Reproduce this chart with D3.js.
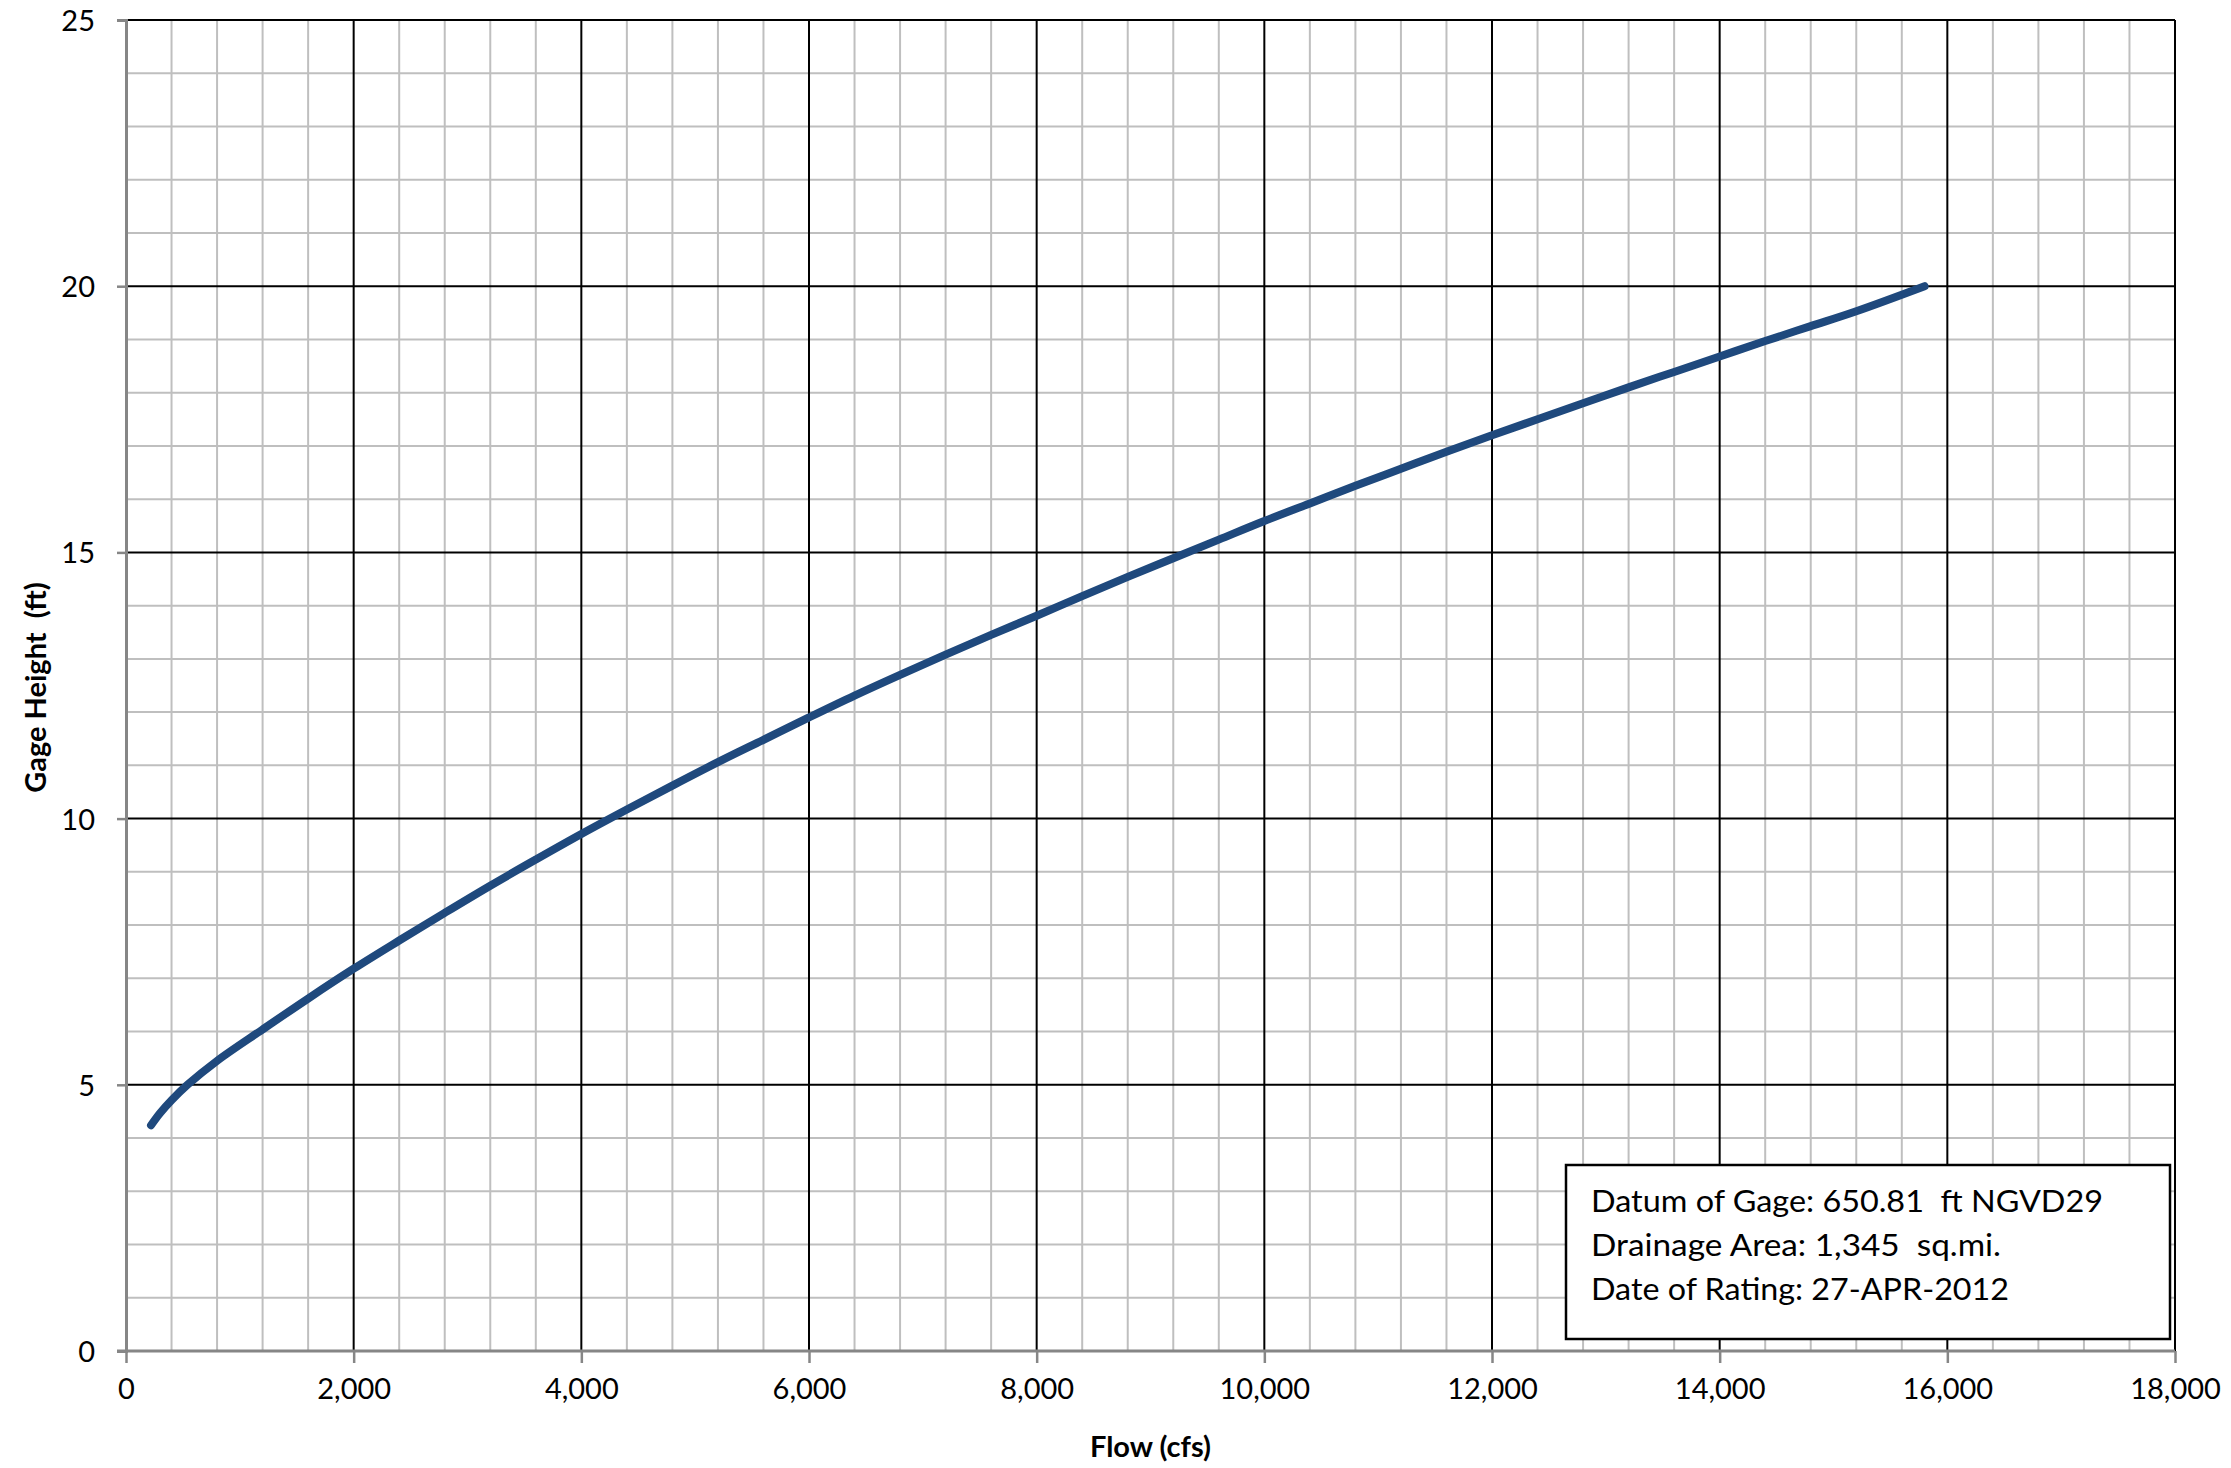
<!DOCTYPE html>
<html><head><meta charset="utf-8">
<script src="https://cdn.jsdelivr.net/npm/d3@7"></script>
<style>
body{margin:0;background:#fff}
svg text{font-family:Lato,"Open Sans",sans-serif;fill:#000}
</style>
</head><body>
<svg id="chart" width="2231" height="1468"></svg>
<script>
// ---- data ----
const flow = [220, 300, 400, 540, 800, 1200, 1600, 2000, 2400, 2800, 3200, 3600, 4000, 4400, 4800, 5200, 5600, 6000, 6400, 6800, 7200, 7600, 8000, 8400, 8800, 9200, 9600, 10000, 10400, 10800, 11200, 11600, 12000, 12400, 12800, 13200, 13600, 14000, 14400, 14800, 15200, 15800];
const gageHeight = [4.24, 4.47, 4.71, 5.00, 5.45, 6.04, 6.62, 7.18, 7.71, 8.23, 8.74, 9.23, 9.71, 10.17, 10.62, 11.06, 11.48, 11.90, 12.31, 12.70, 13.08, 13.45, 13.81, 14.18, 14.54, 14.89, 15.24, 15.59, 15.92, 16.25, 16.57, 16.89, 17.20, 17.50, 17.80, 18.10, 18.39, 18.68, 18.97, 19.25, 19.53, 20.0];
const xMajorTicks = [0, 2000, 4000, 6000, 8000, 10000, 12000, 14000, 16000, 18000];
const yMajorTicks = [0, 5, 10, 15, 20, 25];
const xMinorStep = 400;
const yMinorStep = 1;
const xTitle = "Flow (cfs)";
const yTitle = "Gage Height  (ft)";
const infoLines = ["Datum of Gage: 650.81  ft NGVD29", "Drainage Area: 1,345  sq.mi.", "Date of Rating: 27-APR-2012"];

// ---- layout ----
const L = 126, R = 2175, T = 20, B = 1351;
const svg = d3.select("#chart");
const x = d3.scaleLinear().domain([0, 18000]).range([L, R]);
const y = d3.scaleLinear().domain([0, 25]).range([B, T]);

const xMinor = d3.range(0, 18000 + 1, xMinorStep);
const yMinor = d3.range(0, 25 + 0.001, yMinorStep);

// minor grid
const g = svg.append("g");
g.selectAll(".vmin").data(xMinor.filter(v => v % 2000 !== 0)).enter().append("line")
  .attr("x1", d => x(d)).attr("x2", d => x(d)).attr("y1", T).attr("y2", B)
  .attr("stroke", "#bfbfbf").attr("stroke-width", 2);
g.selectAll(".hmin").data(yMinor.filter(v => v % 5 !== 0)).enter().append("line")
  .attr("x1", L).attr("x2", R).attr("y1", d => y(d)).attr("y2", d => y(d))
  .attr("stroke", "#bfbfbf").attr("stroke-width", 2);
// major grid
g.selectAll(".vmaj").data(xMajorTicks.filter(v => v !== 0)).enter().append("line")
  .attr("x1", d => x(d)).attr("x2", d => x(d)).attr("y1", T).attr("y2", B)
  .attr("stroke", "#000").attr("stroke-width", 2);
g.selectAll(".hmaj").data(yMajorTicks.filter(v => v !== 0)).enter().append("line")
  .attr("x1", L).attr("x2", R).attr("y1", d => y(d)).attr("y2", d => y(d))
  .attr("stroke", "#000").attr("stroke-width", 2);

// axes
const fmt = d3.format(",");
const xAxis = svg.append("g").attr("transform", `translate(0,${B})`)
  .call(d3.axisBottom(x).tickValues(xMajorTicks).tickFormat(fmt).tickSize(12).tickPadding(10));
const yAxis = svg.append("g").attr("transform", `translate(${L},0)`)
  .call(d3.axisLeft(y).tickValues(yMajorTicks).tickFormat(d3.format("d")).tickSize(9).tickPadding(22));
[xAxis, yAxis].forEach(a => {
  a.select(".domain").attr("stroke", "#868686").attr("stroke-width", 3);
  a.selectAll(".tick line").attr("stroke", "#868686").attr("stroke-width", 2.5);
  a.selectAll(".tick text").attr("font-size", 29).attr("font-family", "Lato").attr("fill", "#000");
});
xAxis.select(".domain").attr("d", `M${L - 9},0H${R}`);
xAxis.selectAll(".tick text").attr("dy", "0.9em");
yAxis.selectAll(".tick text").attr("dy", "0.36em");

// curve
const pts = flow.map((f, i) => [f, gageHeight[i]]);
const line = d3.line().x(d => x(d[0])).y(d => y(d[1])).curve(d3.curveCatmullRom.alpha(0.5));
svg.append("path").datum(pts).attr("d", line)
  .attr("fill", "none").attr("stroke", "#1f497d").attr("stroke-width", 8)
  .attr("stroke-linecap", "round").attr("stroke-linejoin", "round");

// titles
svg.append("text").attr("x", (L + R) / 2).attr("y", 1457).attr("text-anchor", "middle")
  .attr("font-size", 29).attr("font-weight", "bold").text(xTitle);
svg.append("text").attr("transform", `translate(46,${(T + B) / 2 + 2}) rotate(-90)`)
  .attr("text-anchor", "middle").attr("font-size", 29).attr("font-weight", "bold")
  .attr("xml:space", "preserve").text(yTitle);

// info box
const box = svg.append("g");
box.append("rect").attr("x", 1566).attr("y", 1165).attr("width", 604).attr("height", 174)
  .attr("fill", "#fff").attr("stroke", "#000").attr("stroke-width", 2.5);
const lineWidths = [512, 410, 418];
box.selectAll("text").data(infoLines).enter().append("text")
  .attr("x", 1591).attr("y", (d, i) => 1212 + i * 44)
  .attr("font-size", 31).attr("xml:space", "preserve")
  .attr("textLength", (d, i) => lineWidths[i]).attr("lengthAdjust", "spacingAndGlyphs")
  .text(d => d);
</script>
</body></html>
